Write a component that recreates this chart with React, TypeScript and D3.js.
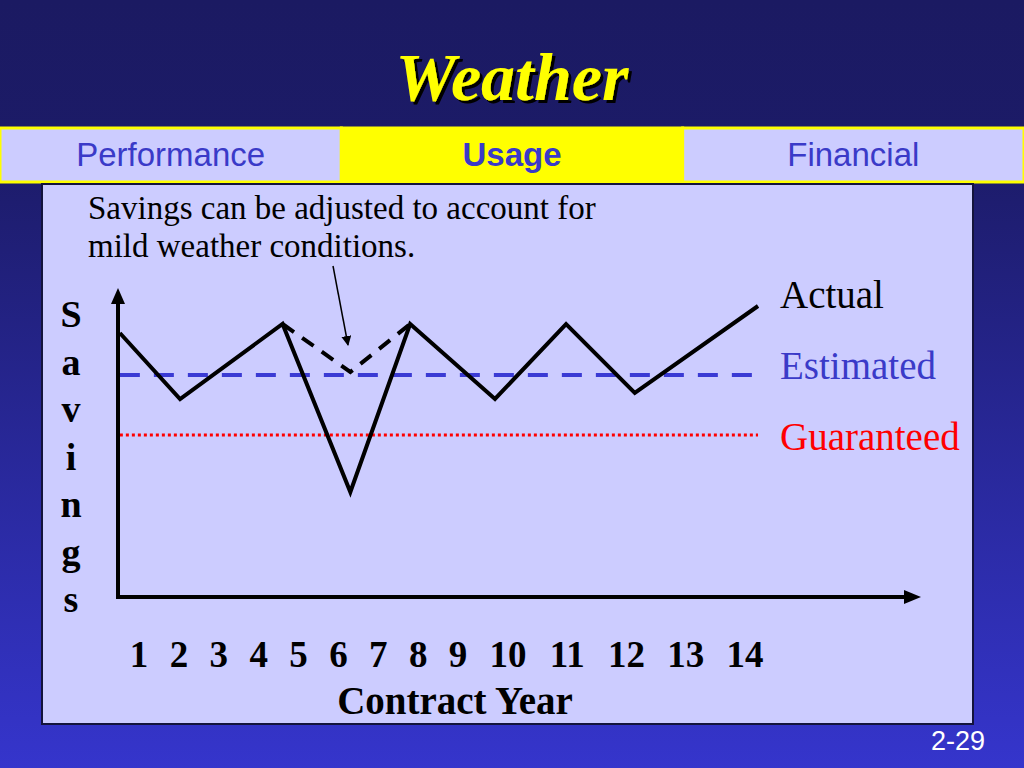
import React from "react";
import * as d3 from "d3";

const tabs = ["Performance", "Usage", "Financial"];
const activeTab = "Usage";
const years = [1, 2, 3, 4, 5, 6, 7, 8, 9, 10, 11, 12, 13, 14];
const actualYears = [0.52, 2.03, 4.6, 6.3, 7.8, 9.74, 10.98, 12.14, 14.22];
const actualValues = [88, 66, 91, 35, 91, 66, 91, 68, 97];
const adjustedYears = [4.6, 6.3, 7.8];
const adjustedValues = [91, 75, 91];
const estimatedValue = 74;
const guaranteedValue = 54;
const lineStartYear = 0.52;
const lineEndYear = 14.22;
const yLabelLetters = ["S", "a", "v", "i", "n", "g", "s"];
const noteLines = ["Savings can be adjusted to account for", "mild weather conditions."];

export default function App() {
  const W = 1024, H = 768;
  const x = d3.scaleLinear().domain([1, 9, 10, 14]).range([139, 458, 508, 745]);
  const y = d3.scaleLinear().domain([0, 100]).range([597, 297]);
  const line = d3.line<[number, number]>().x(d => x(d[0])).y(d => y(d[1]));
  const actual = line(actualYears.map((v, i) => [v, actualValues[i]] as [number, number])) || "";
  const adjusted = line(adjustedYears.map((v, i) => [v, adjustedValues[i]] as [number, number])) || "";
  const x0 = 118, yAxis0 = 597;
  const tabW = W / tabs.length;
  const serif = "'Liberation Serif', 'Times New Roman', serif";
  const sans = "'Liberation Sans', Arial, sans-serif";
  return (
    <svg width={W} height={H} style={{ position: "fixed", left: 0, top: 0 }}>
      <defs>
        <linearGradient id="bg" x1="0" y1="0" x2="0" y2="1">
          <stop offset="0" stopColor="#1b1a62" />
          <stop offset="0.2" stopColor="#1c1b68" />
          <stop offset="1" stopColor="#3535cc" />
        </linearGradient>
        <filter id="shadow" x="-10%" y="-10%" width="120%" height="130%">
          <feDropShadow dx="3" dy="3" stdDeviation="0.5" floodColor="#000" floodOpacity="1" />
        </filter>
        <marker id="arr" viewBox="0 0 10 10" refX="9" refY="5" markerWidth="10" markerHeight="10" markerUnits="userSpaceOnUse" orient="auto">
          <path d="M0,0 L10,5 L0,10 z" fill="#000" />
        </marker>
      </defs>
      <rect x={0} y={0} width={W} height={H} fill="url(#bg)" />
      {/* Title */}
      <text x={512} y={100} textAnchor="middle" fontFamily={serif} fontWeight="bold" fontStyle="italic" fontSize={68} fill="#ffff00" filter="url(#shadow)">Weather</text>
      {/* Tabs */}
      {tabs.map((t, i) => (
        <g key={t}>
          <rect x={i * tabW} y={128} width={tabW} height={54} fill={t === activeTab ? "#ffff00" : "#ccccff"} stroke="#ffff00" strokeWidth={3} />
          <text x={i * tabW + tabW / 2} y={166} textAnchor="middle" fontFamily={sans} fontSize={33} fontWeight={t === activeTab ? "bold" : "normal"} fill="#3a3ac8">{t}</text>
        </g>
      ))}
      {/* Panel */}
      <rect x={42} y={184} width={931} height={540} fill="#ccccff" stroke="#14143c" strokeWidth={2} />
      {/* Note */}
      {noteLines.map((l, i) => (
        <text key={i} x={88} y={219 + i * 38} fontFamily={serif} fontSize={33} fill="#000">{l}</text>
      ))}
      <line x1={333} y1={266} x2={348} y2={345} stroke="#000" strokeWidth={1.5} markerEnd="url(#arr)" />
      {/* Y label */}
      {yLabelLetters.map((c, i) => (
        <text key={i} x={71} y={327 + i * 47.5} textAnchor="middle" fontFamily={serif} fontWeight="bold" fontSize={38} fill="#000">{c}</text>
      ))}
      {/* Reference lines */}
      <line x1={x(lineStartYear)} x2={x(lineEndYear)} y1={y(guaranteedValue)} y2={y(guaranteedValue)} stroke="#ff0000" strokeWidth={3} strokeDasharray="3,3" />
      <line x1={x(lineStartYear)} x2={x(lineEndYear)} y1={y(estimatedValue)} y2={y(estimatedValue)} stroke="#3a3ad4" strokeWidth={4} strokeDasharray="20,14" />
      {/* Series */}
      <path d={adjusted} fill="none" stroke="#000" strokeWidth={4} strokeDasharray="14,10" />
      <path d={actual} fill="none" stroke="#000" strokeWidth={4} strokeLinejoin="miter" />
      {/* Axes */}
      <line x1={x0} y1={yAxis0 + 2} x2={x0} y2={302} stroke="#000" strokeWidth={4} />
      <path d={`M${x0 - 7},${304} L${x0},${288} L${x0 + 7},${304} z`} fill="#000" />
      <line x1={x0 - 2} y1={yAxis0} x2={906} y2={yAxis0} stroke="#000" strokeWidth={4} />
      <path d={`M${904},${yAxis0 - 7} L${921},${yAxis0} L${904},${yAxis0 + 7} z`} fill="#000" />
      {/* Legend labels */}
      <text x={780} y={308} fontFamily={serif} fontSize={39} fill="#000">Actual</text>
      <text x={780} y={379} fontFamily={serif} fontSize={39} fill="#3a3ac8">Estimated</text>
      <text x={780} y={450} fontFamily={serif} fontSize={39} fill="#ff0000">Guaranteed</text>
      {/* X ticks */}
      {years.map(v => (
        <text key={v} x={x(v)} y={667} textAnchor="middle" fontFamily={serif} fontWeight="bold" fontSize={37} fill="#000">{v}</text>
      ))}
      <text x={455} y={714} textAnchor="middle" fontFamily={serif} fontWeight="bold" fontSize={39} fill="#000">Contract Year</text>
      <text x={958} y={750} textAnchor="middle" fontFamily={sans} fontSize={27} fill="#ffffff">2-29</text>
    </svg>
  );
}
